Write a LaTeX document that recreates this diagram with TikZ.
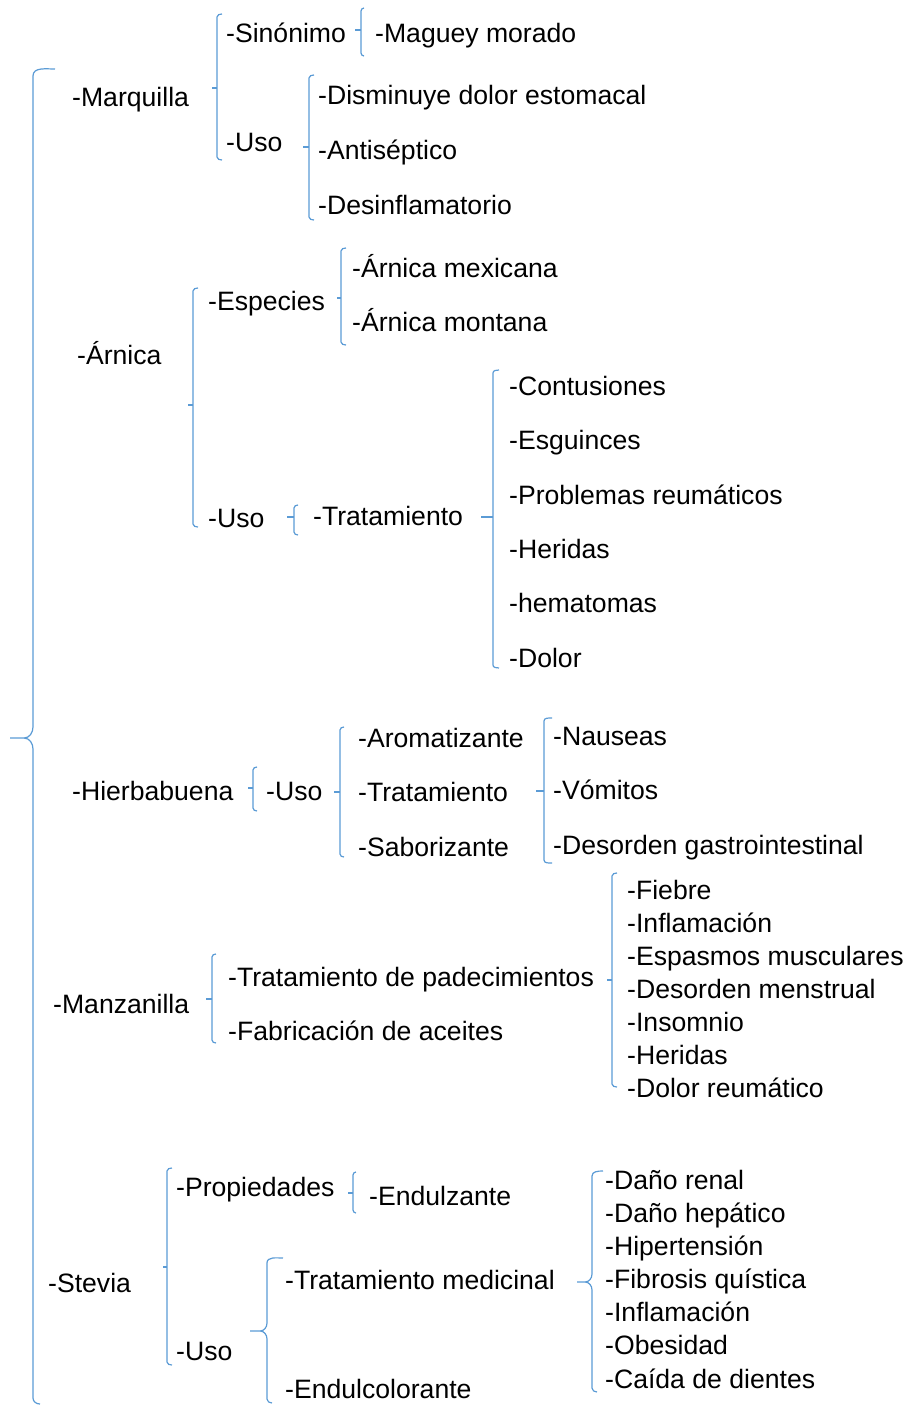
\documentclass[tikz,border=0pt]{standalone}
\usepackage{fontspec}
\setmainfont{Liberation Sans}
\usetikzlibrary{positioning}

\definecolor{azul}{RGB}{91,155,213}

% x, top, bottom, tick y, tick x, hook
\newcommand{\llave}[6]{%
  \draw[llave] ({#1+#6},#2) to[out=180,in=90] (#1,{#2+3}) -- (#1,{#3-3}) to[out=-90,in=180] ({#1+#6},#3);
  \draw[llave] (#1,#4) -- (#5,#4);}
\newcommand{\llavec}[6]{%
  \draw[llave] ({#1+#6},#2) to[out=180,in=90] (#1,{#2+5}) -- (#1,{#4-8}) to[out=-90,in=0] ({#1-7},#4) -- (#5,#4)
    -- ({#1-7},#4) to[out=0,in=90] (#1,{#4+8}) -- (#1,{#3-4}) to[out=-90,in=180] ({#1+5},#3);}

\begin{document}
\begin{tikzpicture}[x=1pt,y=-1pt,
  item/.style={anchor=west,inner sep=0pt,text height=19pt,text depth=0pt,
    font=\fontsize{26.6}{30}\selectfont},
  llave/.style={draw=azul,line width=1.2pt}]

  \useasboundingbox (0,0) rectangle (909,1405);

  % raiz
  \draw[llave] (55,69) to[out=180,in=90] (33,76) -- (33,727) to[out=-90,in=0] (24,738) -- (10,738)
    -- (24,738) to[out=0,in=90] (33,749) -- (33,1398) to[out=-90,in=180] (40,1404);

  % Marquilla
  \node[item] (marq) at (72,97) {-Marquilla};
  \llave{217}{14}{160}{88}{212}{5}
  \node[item] (marqSin) at (226,33) {-Sinónimo};
  \llave{361}{8}{56}{30}{355}{3}
  \node[item] (marqMag) at (375,33) {-Maguey morado};
  \node[item] (marqUso) at (226,142) {-Uso};
  \llave{309}{75}{220}{147}{303}{5}
  \node[item] (marqU1) at (318,95) {-Disminuye dolor estomacal};
  \node[item] (marqU2) at (318,150) {-Antiséptico};
  \node[item] (marqU3) at (318,205) {-Desinflamatorio};

  % Arnica
  \node[item] (arn) at (77,355) {-Árnica};
  \llave{193}{288}{527}{405}{188}{5}
  \node[item] (arnEsp) at (208,301) {-Especies};
  \llave{341}{248}{345}{298}{337}{5}
  \node[item] (arnMex) at (352,268) {-Árnica mexicana};
  \node[item] (arnMon) at (352,322) {-Árnica montana};
  \node[item] (arnUso) at (208,518) {-Uso};
  \llave{294}{505}{535}{517}{287}{4}
  \node[item] (arnTrat) at (313,516) {-Tratamiento};
  \llave{493}{370}{668}{517}{481}{6}
  \node[item] (arnT1) at (509,386) {-Contusiones};
  \node[item] (arnT2) at (509,440) {-Esguinces};
  \node[item] (arnT3) at (509,495) {-Problemas reumáticos};
  \node[item] (arnT4) at (509,549) {-Heridas};
  \node[item] (arnT5) at (509,603) {-hematomas};
  \node[item] (arnT6) at (509,658) {-Dolor};

  % Hierbabuena
  \node[item] (hier) at (72,791) {-Hierbabuena};
  \llave{253}{767}{811}{788}{248}{4}
  \node[item] (hierUso) at (266,791) {-Uso};
  \llave{340}{727}{857}{792}{334}{4}
  \node[item] (hierA) at (358,738) {-Aromatizante};
  \node[item] (hierT) at (358,792) {-Tratamiento};
  \node[item] (hierS) at (358,847) {-Saborizante};
  \llave{544}{718}{863}{791}{536}{8}
  \node[item] (hierN) at (553,736) {-Nauseas};
  \node[item] (hierV) at (553,790) {-Vómitos};
  \node[item] (hierD) at (553,845) {-Desorden gastrointestinal};

  % Manzanilla
  \node[item] (manz) at (53,1004) {-Manzanilla};
  \llave{212}{954}{1043}{999}{206}{4}
  \node[item] (manzTrat) at (228,977) {-Tratamiento de padecimientos};
  \node[item] (manzFab) at (228,1031) {-Fabricación de aceites};
  \llave{612}{873}{1087}{980}{607}{5}
  \node[item] (manzP1) at (627,890) {-Fiebre};
  \node[item] (manzP2) at (627,923) {-Inflamación};
  \node[item] (manzP3) at (627,956) {-Espasmos musculares};
  \node[item] (manzP4) at (627,989) {-Desorden menstrual};
  \node[item] (manzP5) at (627,1022) {-Insomnio};
  \node[item] (manzP6) at (627,1055) {-Heridas};
  \node[item] (manzP7) at (627,1088) {-Dolor reumático};

  % Stevia
  \node[item] (stev) at (48,1283) {-Stevia};
  \llave{167}{1168}{1365}{1267}{163}{5}
  \node[item] (stevProp) at (176,1187) {-Propiedades};
  \llave{353}{1172}{1213}{1193}{348}{3}
  \node[item] (stevEnd) at (369,1196) {-Endulzante};
  \node[item] (stevUso) at (176,1351) {-Uso};
  \llavec{267}{1258}{1403}{1331}{250}{16}
  \node[item] (stevTrat) at (285,1280) {-Tratamiento medicinal};
  \node[item] (stevEndul) at (285,1389) {-Endulcolorante};
  \llavec{592}{1171}{1392}{1282}{577}{11}
  \node[item] (stevM1) at (605,1180) {-Daño renal};
  \node[item] (stevM2) at (605,1213) {-Daño hepático};
  \node[item] (stevM3) at (605,1246) {-Hipertensión};
  \node[item] (stevM4) at (605,1279) {-Fibrosis quística};
  \node[item] (stevM5) at (605,1312) {-Inflamación};
  \node[item] (stevM6) at (605,1345) {-Obesidad};
  \node[item] (stevM7) at (605,1379) {-Caída de dientes};
\end{tikzpicture}
\end{document}
